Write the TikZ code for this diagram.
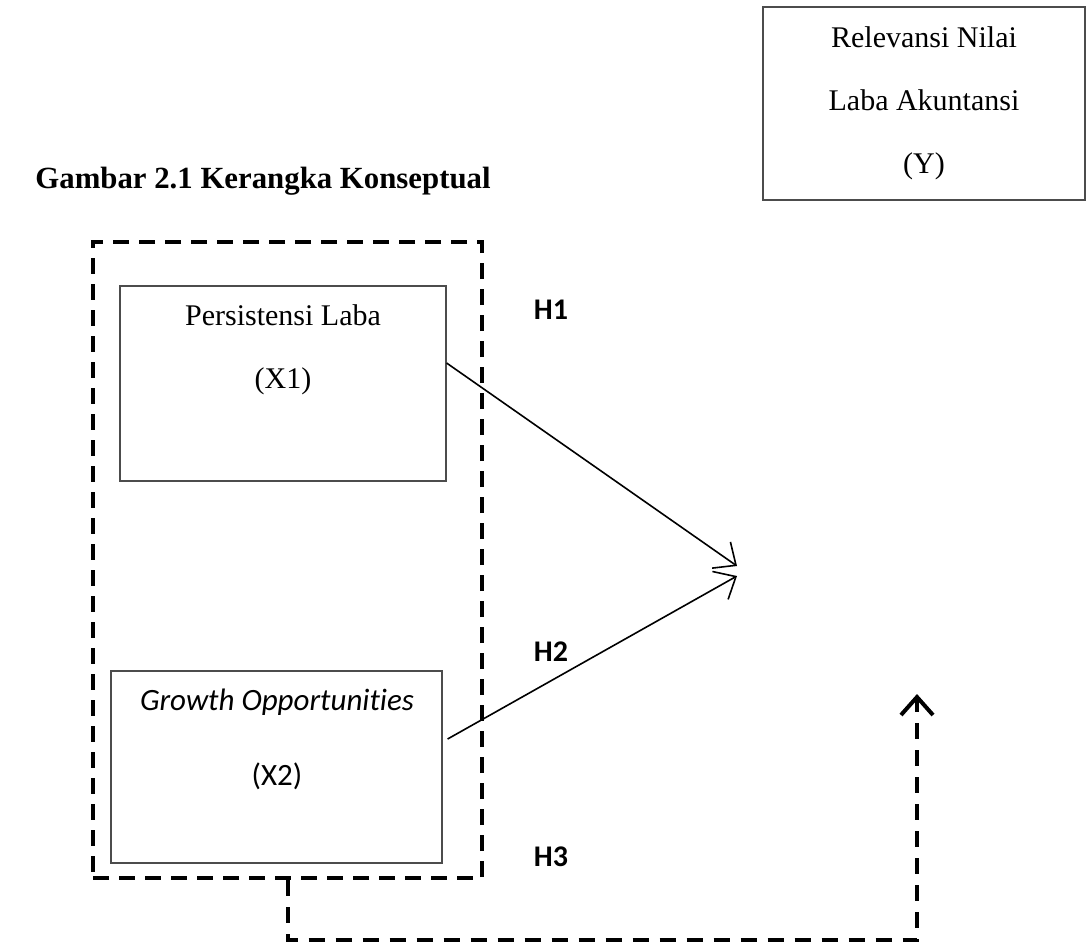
\documentclass[tikz,border=0pt]{standalone}
\usepackage{fontspec}
\setmainfont{Liberation Serif}
\newfontfamily\calibri[Ligatures=NoCommon]{Carlito}
\usetikzlibrary{arrows.meta,calc}
\begin{document}
\begin{tikzpicture}[x=0.5pt,y=-0.5pt,
  varbox/.style={draw=black!70,line width=0.6pt,rectangle,inner sep=0pt},
  serif15/.style={font=\fontsize{15}{31.5}\selectfont,align=center},
  hlabel/.style={font=\calibri\bfseries\fontsize{15}{18}\selectfont},
  grpbox/.style={draw=black,line width=2pt,dash pattern=on 8pt off 5pt,rectangle,inner sep=0pt},
  arr/.style={line width=0.8pt,-{Straight Barb[length=9pt,width=16pt,line width=0.8pt]}},
  dasharr/.style={line width=2pt,dash pattern=on 8pt off 5.5pt,-{Straight Barb[length=9pt,width=16pt,line width=2pt]}}
]
\useasboundingbox (0,0) rectangle (1087,950);

% dependent variable box
\node[varbox,serif15,minimum width=161pt,minimum height=96.5pt] (y) at (924,103.5)
  {Relevansi Nilai\\Laba Akuntansi\\(Y)};

% title
\node[anchor=west,font=\bfseries\fontsize{15.4}{18}\selectfont,inner sep=0pt] (title) at (35,181)
  {Gambar 2.1 Kerangka Konseptual};

% group dashed box
\node[grpbox,minimum width=194.5pt,minimum height=318pt] (grp) at (287.5,560) {};

% X1
\node[varbox,minimum width=163pt,minimum height=97.5pt] (x1) at (283,383.5) {};
\node[serif15,inner sep=0pt] (x1t) at (283,350) {Persistensi Laba\\(X1)};

% X2
\node[varbox,minimum width=165.5pt,minimum height=96pt] (x2) at (276.5,767) {};
\node[font=\calibri\fontsize{15.5}{37.5}\selectfont,align=center,inner sep=0pt] (x2t) at (277,739.5)
  {\itshape Growth Opportunities\\(X2)};

% hypothesis labels
\node[hlabel] (h1) at (551,310) {H1};
\node[hlabel] (h2) at (551,652) {H2};
\node[hlabel] (h3) at (551,857) {H3};

% arrows
\coordinate (t1) at (737,566);
\coordinate (t2) at (737,576);
\draw[arr] ($(x1.east)+(0,-20.5)$) -- (t1);
\draw[arr] ($(x2.east)+(5,-28)$) -- (t2);

\coordinate (yt) at (917,694);
\coordinate (corner) at (917,940);
\draw[dasharr] (grp.south) |- (corner) -- (yt);
\end{tikzpicture}
\end{document}
